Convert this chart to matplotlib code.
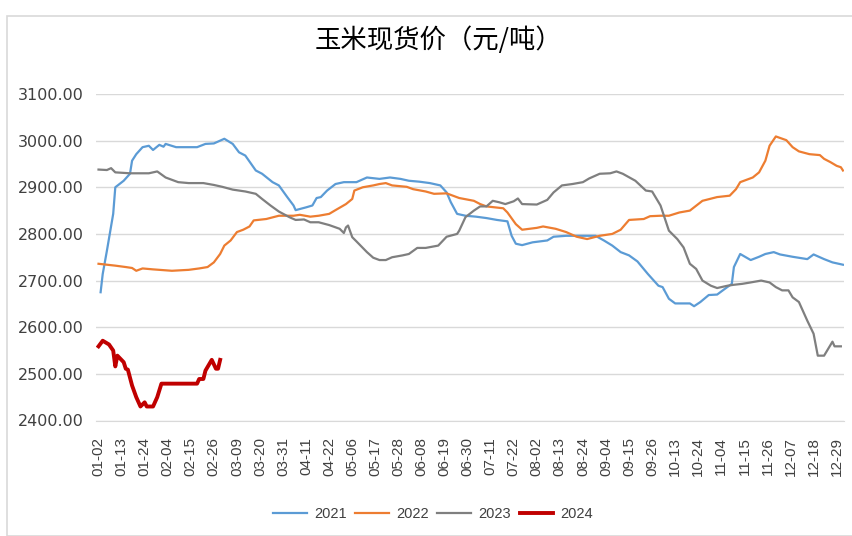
import matplotlib
matplotlib.use("Agg")
import matplotlib.pyplot as plt
from matplotlib.patches import Rectangle
import numpy as np

# category axis: daily quotes, every 11th date labelled
n_days = 356
tick_labels = ["01-02", "01-13", "01-24", "02-04", "02-15", "02-26", "03-09",
               "03-20", "03-31", "04-11", "04-22", "05-06", "05-17", "05-28",
               "06-08", "06-19", "06-30", "07-11", "07-22", "08-02", "08-13",
               "08-24", "09-04", "09-15", "09-26", "10-13", "10-24", "11-04",
               "11-15", "11-26", "12-07", "12-18", "12-29"]

x_2021 = [1, 2, 4, 7, 8, 10, 12, 15, 16, 18, 21, 24, 26, 29, 31, 32, 37, 47, 51,
          55, 60, 64, 67, 70, 75, 78, 83, 86, 90, 93, 94, 99, 102, 104, 106, 109,
          113, 117, 123, 128, 134, 139, 144, 148, 153, 158, 163, 166, 168, 171,
          175, 180, 185, 190, 195, 197, 199, 202, 207, 214, 217, 223, 229, 237,
          241, 245, 249, 253, 257, 262, 267, 269, 272, 275, 282, 284, 287, 291,
          295, 298, 302, 303, 306, 311, 315, 318, 322, 325, 331, 338, 341, 346,
          350, 355]
y_2021 = [2675, 2714, 2764, 2843, 2900, 2907, 2914, 2929, 2957, 2971, 2986, 2989,
          2980, 2991, 2987, 2993, 2986, 2986, 2993, 2994, 3004, 2993, 2975, 2968,
          2936, 2929, 2911, 2904, 2879, 2861, 2851, 2857, 2861, 2877, 2879, 2893,
          2907, 2911, 2911, 2921, 2918, 2921, 2918, 2914, 2912, 2909, 2904, 2889,
          2868, 2843, 2839, 2837, 2834, 2830, 2827, 2796, 2779, 2776, 2782, 2786,
          2794, 2796, 2796, 2796, 2786, 2775, 2761, 2754, 2741, 2714, 2689, 2686,
          2661, 2651, 2651, 2645, 2654, 2669, 2670, 2680, 2693, 2729, 2757, 2744,
          2751, 2757, 2761, 2756, 2751, 2746, 2756, 2746, 2739, 2734]

x_2022 = [0, 4, 8, 13, 16, 18, 21, 26, 35, 43, 48, 52, 55, 58, 60, 63, 66, 69, 72,
          74, 80, 86, 93, 96, 101, 105, 110, 113, 118, 121, 122, 126, 131, 134,
          137, 140, 147, 150, 156, 160, 166, 172, 179, 182, 185, 193, 195, 199,
          202, 209, 212, 218, 223, 228, 233, 239, 245, 249, 253, 260, 263, 268,
          272, 277, 282, 288, 295, 301, 304, 306, 312, 315, 318, 320, 323, 328,
          331, 334, 339, 344, 346, 349, 352, 354, 355]
y_2022 = [2736, 2734, 2732, 2729, 2727, 2721, 2726, 2724, 2721, 2723, 2726, 2729,
          2739, 2757, 2775, 2786, 2804, 2809, 2816, 2829, 2832, 2839, 2839, 2841,
          2837, 2839, 2843, 2851, 2864, 2875, 2893, 2900, 2904, 2907, 2909, 2904,
          2901, 2896, 2891, 2886, 2887, 2877, 2871, 2864, 2859, 2855, 2846, 2821,
          2809, 2813, 2816, 2811, 2804, 2794, 2789, 2796, 2800, 2809, 2830, 2832,
          2838, 2839, 2839, 2846, 2850, 2871, 2879, 2882, 2896, 2911, 2921, 2932,
          2957, 2989, 3009, 3001, 2986, 2977, 2971, 2969, 2961, 2954, 2946, 2943,
          2936]

x_2023 = [0, 4, 6, 8, 15, 24, 28, 32, 38, 43, 50, 55, 59, 64, 70, 75, 78, 82, 86,
          91, 94, 98, 101, 105, 110, 115, 117, 118, 119, 121, 123, 128, 131, 134,
          137, 140, 145, 148, 152, 156, 162, 166, 171, 172, 175, 179, 182, 185, 188,
          191, 194, 198, 200, 202, 209, 214, 217, 221, 226, 231, 234, 239, 244, 247,
          250, 256, 261, 264, 268, 272, 276, 279, 282, 285, 288, 292, 295, 300, 303,
          307, 311, 316, 320, 323, 326, 329, 331, 334, 338, 341, 343, 346, 350, 351,
          354]
y_2023 = [2938, 2937, 2941, 2932, 2930, 2930, 2934, 2921, 2911, 2909, 2909, 2905,
          2901, 2895, 2891, 2886, 2875, 2861, 2848, 2836, 2830, 2831, 2825, 2825,
          2819, 2811, 2802, 2814, 2818, 2793, 2784, 2761, 2749, 2744, 2744, 2750,
          2754, 2757, 2770, 2770, 2775, 2794, 2800, 2807, 2836, 2850, 2859, 2859,
          2871, 2868, 2864, 2870, 2876, 2864, 2863, 2873, 2889, 2904, 2907, 2911,
          2919, 2929, 2930, 2934, 2929, 2914, 2893, 2891, 2861, 2807, 2789, 2771,
          2736, 2725, 2700, 2689, 2684, 2689, 2691, 2693, 2696, 2700, 2696, 2686,
          2679, 2679, 2664, 2654, 2614, 2586, 2539, 2539, 2569, 2559, 2559]

x_2024 = [0, 2, 5, 7, 8, 9, 12, 13, 14, 16, 18, 20, 22, 23, 26, 28, 30, 35, 47,
          48, 50, 51, 54, 56, 57, 58]
y_2024 = [2559, 2571, 2563, 2550, 2516, 2539, 2525, 2511, 2509, 2475, 2450, 2430,
          2439, 2430, 2430, 2450, 2479, 2479, 2479, 2489, 2489, 2507, 2530, 2511,
          2511, 2530]

series = [("2021", x_2021, y_2021, "#5B9BD5", 1.6),
          ("2022", x_2022, y_2022, "#ED7D31", 1.6),
          ("2023", x_2023, y_2023, "#7F7F7F", 1.6),
          ("2024", x_2024, y_2024, "#C00000", 2.8)]

plt.rcParams["font.family"] = ["Liberation Sans", "DejaVu Sans"]

fig = plt.figure(figsize=(8.52, 5.36), dpi=100)
# light outer frame of the chart object
fig.patches.append(Rectangle((7 / 852, 0), 1.0, 1 - 16 / 536, transform=fig.transFigure,
                             facecolor="none", edgecolor="#D9D9D9", linewidth=1.2))

ax = fig.add_axes([96 / 852, 1 - 420.5 / 536, 748 / 852, 326.5 / 536])
for name, xs, ys, color, lw in series:
    ax.plot(xs, ys, color=color, lw=lw, label=name, solid_joinstyle="round")

ax.set_xlim(-1.2, n_days - 0.5)
ax.set_ylim(2400, 3100)
ax.set_yticks(np.arange(2400, 3101, 100))
ax.set_yticklabels([f"{v:.2f}" for v in np.arange(2400, 3101, 100)],
                   fontsize=11.5, color="#404040", family="DejaVu Sans")
ax.set_xticks(np.arange(len(tick_labels)) * 11)
ax.set_xticklabels(tick_labels, rotation=90, fontsize=11, color="#404040")
ax.tick_params(axis="both", length=0)
ax.tick_params(axis="y", pad=9)
ax.tick_params(axis="x", pad=12)
ax.grid(axis="y", color="#D9D9D9", lw=1)
ax.set_axisbelow(True)
for side in ["top", "right", "left"]:
    ax.spines[side].set_visible(False)
ax.spines["bottom"].set_color("#D9D9D9")

fig.text(438 / 852, 1 - 40 / 536, "玉米现货价（元/吨）", ha="center", va="center",
         fontsize=19, weight="medium", family=["Noto Sans CJK SC", "DejaVu Sans"])

fig.legend(loc="center", bbox_to_anchor=(433 / 852, 1 - 514 / 536), ncol=4,
           frameon=False, fontsize=10.5, handlelength=2.3, handletextpad=0.5,
           columnspacing=0.6, labelcolor="#404040")

fig.savefig("out.png", dpi=100)
